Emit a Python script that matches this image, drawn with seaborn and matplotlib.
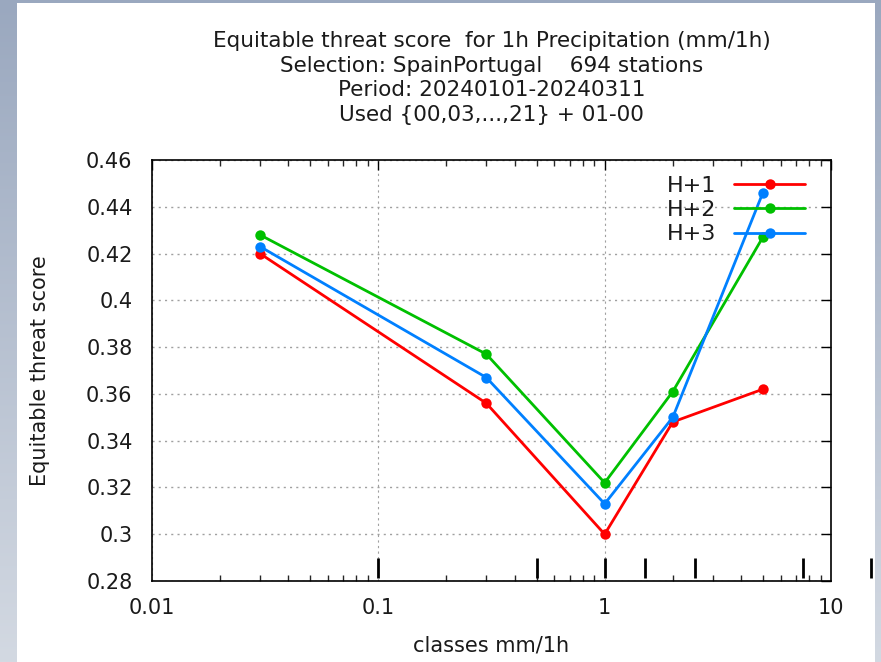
import numpy as np
import pandas as pd
import matplotlib
matplotlib.use("Agg")
import matplotlib.pyplot as plt
import seaborn as sns
from matplotlib.ticker import FormatStrFormatter, LogLocator, FixedLocator

# ---- data ----
classes = [0.03, 0.3, 1, 2, 5]
h1 = [0.420, 0.356, 0.300, 0.348, 0.362]
h2 = [0.428, 0.377, 0.322, 0.361, 0.427]
h3 = [0.423, 0.367, 0.313, 0.350, 0.446]
series_names = ["H+1", "H+2", "H+3"]
class_limits = [0.1, 0.5, 1, 1.5, 2.5, 7.5, 15]
x_tick_labels = ["0.01", "0.1", "1", "10"]
y_ticks = [0.28, 0.30, 0.32, 0.34, 0.36, 0.38, 0.40, 0.42, 0.44, 0.46]

title_lines = [
    "Equitable threat score  for 1h Precipitation (mm/1h)",
    "Selection: SpainPortugal    694 stations",
    "Period: 20240101-20240311",
    "Used {00,03,...,21} + 01-00",
]

sns.set_theme(style="white")
plt.rcParams["font.family"] = ["DejaVu Sans"]
plt.rcParams["text.color"] = "#1a1a1a"
plt.rcParams["axes.labelcolor"] = "#1a1a1a"

df = pd.DataFrame({
    "x": classes * 3,
    "y": h1 + h2 + h3,
    "series": [s for s in series_names for _ in classes],
})
palette = {"H+1": "#ff0000", "H+2": "#00c000", "H+3": "#0080ff"}

fig = plt.figure(figsize=(8.81, 6.62), dpi=100)

# background: bluish gray with white panel
bg = fig.add_axes([0, 0, 1, 1], zorder=-10)
grad = np.linspace(0, 1, 256).reshape(-1, 1)
bg.imshow(grad, aspect="auto", cmap=matplotlib.colors.LinearSegmentedColormap.from_list(
    "bgc", ["#9aa8bf", "#d3d9e2"]), extent=[0, 1, 0, 1])
bg.add_patch(plt.Rectangle((17 / 881, 0), (875 - 17) / 881, (662 - 3) / 662,
                           facecolor="white", edgecolor="none"))
bg.set_xlim(0, 1)
bg.set_ylim(0, 1)
bg.axis("off")

ax = fig.add_axes([152 / 881, 1 - 581 / 662, (831 - 152) / 881, (581 - 160) / 662])
ax.set_facecolor("white")

sns.lineplot(data=df, x="x", y="y", hue="series", palette=palette, ax=ax,
             marker="o", markersize=7.5, markeredgewidth=0, linewidth=2.0,
             legend=True)

ax.set_xscale("log")
ax.set_xlim(0.01, 10)
ax.set_ylim(0.28, 0.46)

ax.xaxis.set_major_locator(FixedLocator([0.01, 0.1, 1, 10]))
ax.set_xticklabels(x_tick_labels)
ax.xaxis.set_minor_locator(LogLocator(base=10, subs=np.arange(2, 10)))
ax.xaxis.set_minor_formatter(plt.NullFormatter())
ax.set_yticks(y_ticks)
ax.yaxis.set_major_formatter(FormatStrFormatter("%g"))

ax.tick_params(axis="both", which="major", direction="in", length=7, width=1,
               top=True, right=True, labelsize=15, colors="black",
               labelcolor="#1a1a1a")
ax.tick_params(axis="y", which="major", pad=14)
ax.tick_params(axis="x", which="major", pad=12)
ax.tick_params(axis="x", which="minor", direction="in", length=4, width=1,
               top=True, bottom=True)
for sp in ax.spines.values():
    sp.set_color("black")
    sp.set_linewidth(1.2)

ax.yaxis.grid(True, linestyle=(0, (1.5, 3)), color="#a0a0a0", linewidth=1)
ax.xaxis.grid(True, which="major", linestyle=(0, (2, 3)), color="#a0a0a0", linewidth=0.8)
ax.set_axisbelow(True)

# class limit markers
ax.vlines(class_limits, 0.2813, 0.2898, colors="black", linewidth=2, clip_on=False, zorder=5)

ax.set_xlabel("classes mm/1h", fontsize=15, labelpad=13)
ax.set_ylabel("Equitable threat score", fontsize=15, labelpad=26)

ax.set_title("\n".join(title_lines), fontsize=15.5, linespacing=1.3, pad=28)

leg = ax.legend(loc="upper right", markerfirst=False, frameon=False, fontsize=16,
                handlelength=3.2, handletextpad=0.8, borderaxespad=0.3,
                labelspacing=0.2, bbox_to_anchor=(0.985, 1.0))
for line in leg.get_lines():
    line.set_linewidth(2.0)

fig.savefig("out.png", dpi=100)
